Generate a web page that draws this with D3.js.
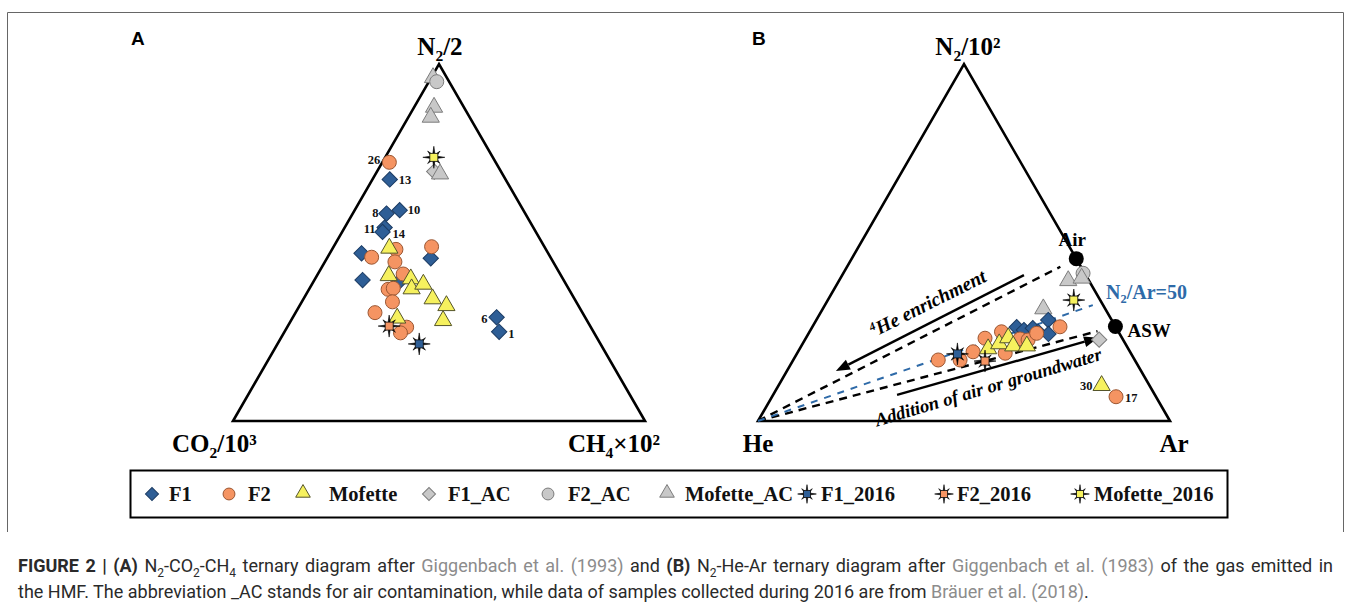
<!DOCTYPE html>
<html>
<head>
<meta charset="utf-8">
<script src="https://cdn.jsdelivr.net/npm/d3@7/dist/d3.min.js"></script>
<style>
  html, body { margin: 0; padding: 0; background: #fff; }
  svg { display: block; }
</style>
</head>
<body>
<script>
// ---------------- data ----------------
// Panel A: [N2/2, CO2/10^3, CH4x10^2] in %
const seriesNames = ["F1", "F2", "Mofette", "F1_AC", "F2_AC", "Mofette_AC", "F1_2016", "F2_2016", "Mofette_2016"];

const aF1 = [[67.7,28.1,4.2],[58.2,33.7,8.2],[59.1,30.0,10.9],[54.2,36.1,9.7],[53.0,37.2,9.8],
             [47.0,45.3,7.7],[45.6,29.2,25.2],[39.5,48.8,11.7],[39.0,40.2,20.8],[29.1,21.5,49.5],[25.0,22.9,52.1]];
const aF1Ids = ["13","8","10","11","14","","","","","6","1"];
const aF2 = [[72.5,25.8,1.7],[45.9,43.4,10.7],[48.1,36.4,15.5],[48.9,27.4,23.8],[44.6,38.4,17.0],[41.2,38.1,20.7],
             [36.9,43.9,19.2],[37.2,42.5,20.3],[33.4,44.6,22.0],[30.4,50.4,19.3],[26.3,44.7,29.0],[24.7,47.0,28.3]];
const aF2Ids = ["26","","","","","","","","","","",""];
const aMof = [[48.1,38.0,13.9],[40.4,42.0,17.6],[39.5,37.1,23.4],[36.7,38.3,25.0],[38.0,34.8,27.2],
              [33.9,34.6,31.5],[32.0,32.2,35.8],[27.8,35.1,37.1],[28.5,45.9,25.6]];
const aF1AC = [[69.9,16.2,13.9]];
const aF2AC = [[95.1,3.0,1.9]];
const aMofAC = [[95.9,3.5,0.6],[87.6,7.4,5.0],[84.8,9.6,5.6],[68.9,15.3,15.8]];
const aF1_2016 = [[21.6,44.0,34.4]];
const aF2_2016 = [[26.6,48.8,24.6]];
const aMof_2016 = [[73.9,14.3,11.8]];

// Panel B: [N2/10^2, He, Ar] in %
const bF1 = [[26.3,24.1,49.7],[25.5,22.7,51.8],[26.0,20.3,53.7],[25.0,19.5,55.5],[28.3,15.4,56.3],[24.4,17.3,58.3]];
const bF2 = [[17.1,47.7,35.2],[17.1,42.4,40.5],[19.4,38.1,42.5],[23.2,33.3,43.5],[25.0,28.4,46.6],[19.0,30.5,50.5],
             [23.0,24.9,52.1],[22.7,23.1,54.2],[24.6,20.1,55.4],[26.4,13.5,60.1],[6.8,9.7,83.5]];
const bF2Ids = ["","","","","","","","","","","17"];
const bMof = [[19.9,34.2,45.9],[21.3,30.8,47.9],[23.0,27.8,49.3],[20.7,27.7,51.6],[20.7,24.4,54.9],[9.6,11.8,78.6]];
const bMofIds = ["","","","","","30"];
const bF1AC = [[22.8,5.8,71.4]];
const bF2AC = [[41.4,0.4,58.2]];
const bMofAC = [[31.1,15.2,53.7],[39.0,5.2,55.8],[39.7,1.6,58.7]];
const bF1_2016 = [[18.8,42.2,39.0]];
const bF2_2016 = [[16.8,36.5,46.7]];
const bMof_2016 = [[33.9,6.4,59.7]];

// Reference compositions in panel B
const refPoints = [{name: "Air", c: [45.5,0,54.5]}, {name: "ASW", c: [26.5,0,73.5]}];
const heVertex = [0,100,0];
const n2Ar50 = [33.3,0,66.7];
// Process arrows (start, end) in panel B
const arrowHe = [[40.9,15.0,44.1],[14.0,74.1,11.9]];
const arrowAir = [[7.3,62.6,30.1],[23.3,5.8,70.9]];

// ---------------- layout ----------------
const W = 1357, H = 606;
const side = 412, triH = side * Math.sqrt(3) / 2;
const serif = "'Liberation Serif','Times New Roman',serif";
const sans = "'Liberation Sans',Arial,sans-serif";

const styles = {
  F1:           {shape: "diamond",  fill: "#2e5e96", stroke: "#1b3b63"},
  F2:           {shape: "circle",   fill: "#f59462", stroke: "#9b5632"},
  Mofette:      {shape: "triangle", fill: "#f6f15e", stroke: "#55552a"},
  F1_AC:        {shape: "diamond",  fill: "#c8c8c8", stroke: "#7c7c7c"},
  F2_AC:        {shape: "circle",   fill: "#c8c8c8", stroke: "#7c7c7c"},
  Mofette_AC:   {shape: "triangle", fill: "#c8c8c8", stroke: "#7c7c7c"},
  F1_2016:      {shape: "star",     fill: "#2e5e96", stroke: "#000"},
  F2_2016:      {shape: "star",     fill: "#f59462", stroke: "#000"},
  Mofette_2016: {shape: "star",     fill: "#f6f15e", stroke: "#000"}
};

const svg = d3.select("body").append("svg").attr("width", W).attr("height", H);

// outer frame
svg.append("path")
  .attr("d", `M7.5,532 V12.5 H1343.5 V532`)
  .attr("fill", "none").attr("stroke", "#666").attr("stroke-width", 1);

function projection(x0, y0) {
  const xs = d3.scaleLinear().domain([0, 100]).range([x0, x0 + side]);
  const ys = d3.scaleLinear().domain([0, 100]).range([y0, y0 - triH]);
  return (c) => {
    const s = c[0] + c[1] + c[2];
    const t = c[0] / s * 100, r = c[2] / s * 100;
    return [xs(r + t / 2), ys(t)];
  };
}

function starPath(R, r) {
  const pts = [];
  for (let i = 0; i < 16; i++) {
    const ang = i * Math.PI / 8 - Math.PI / 2;
    const rad = i % 2 === 0 ? (i % 4 === 0 ? R : R * 0.8) : r;
    pts.push([rad * Math.cos(ang), rad * Math.sin(ang)]);
  }
  return "M" + pts.map(p => p.join(",")).join("L") + "Z";
}

function drawSymbol(g, name, x, y, scale) {
  const st = styles[name];
  const k = scale || 1;
  const grp = g.append("g").attr("transform", `translate(${x},${y})`);
  if (st.shape === "circle") {
    grp.append("path").attr("d", d3.symbol(d3.symbolCircle, 154 * k * k)())
      .attr("fill", st.fill).attr("stroke", st.stroke).attr("stroke-width", 1);
  } else if (st.shape === "diamond") {
    grp.append("path").attr("d", d3.symbol(d3.symbolSquare, 118 * k * k)())
      .attr("transform", "rotate(45)")
      .attr("fill", st.fill).attr("stroke", st.stroke).attr("stroke-width", 1);
  } else if (st.shape === "triangle") {
    grp.append("path").attr("d", d3.symbol(d3.symbolTriangle, 128 * k * k)())
      .attr("transform", `translate(0,${-1.2 * k})`)
      .attr("fill", st.fill).attr("stroke", st.stroke).attr("stroke-width", 1);
  } else {
    grp.append("path").attr("d", starPath(11 * k, 3 * k)).attr("fill", "#000")
      .attr("stroke", "#000").attr("stroke-width", 0.6);
    const q = 4 * k;
    grp.append("rect").attr("x", -q).attr("y", -q).attr("width", 2 * q).attr("height", 2 * q)
      .attr("fill", st.fill).attr("stroke", "#111").attr("stroke-width", 0.8);
  }
}

function richText(g, x, y, parts, opts) {
  const t = g.append("text").attr("x", x).attr("y", y)
    .attr("font-family", opts.family || serif).attr("font-weight", opts.weight || "bold")
    .attr("font-size", opts.size).attr("fill", opts.fill || "#000")
    .attr("text-anchor", opts.anchor || "start");
  if (opts.style) t.attr("font-style", opts.style);
  if (opts.transform) t.attr("transform", opts.transform);
  parts.forEach(p => {
    const ts = t.append("tspan").text(p.t);
    if (p.sub) ts.attr("font-size", opts.size * 0.62).attr("dy", opts.size * 0.22);
    if (p.back) ts.attr("dy", -opts.size * 0.22);
    if (p.sup) ts.attr("font-size", opts.size * 0.6).attr("dy", -opts.size * 0.35);
    if (p.down) ts.attr("dy", opts.size * 0.35);
  });
  return t;
}

function triangleOutline(g, proj) {
  const v = [[100,0,0],[0,100,0],[0,0,100]].map(proj);
  g.append("path").attr("d", "M" + v.map(p => p.join(",")).join("L") + "Z")
    .attr("fill", "none").attr("stroke", "#000").attr("stroke-width", 2.6).attr("stroke-linejoin", "miter");
}

function drawSeries(g, proj, rows, name, ids, labelPos) {
  rows.forEach((c, i) => {
    const [x, y] = proj(c);
    drawSymbol(g, name, x, y);
    const id = ids && ids[i];
    if (id) {
      const lp = labelPos[id];
      g.append("text").attr("x", x + lp[0]).attr("y", y + lp[1])
        .attr("text-anchor", lp[2]).attr("font-family", serif).attr("font-weight", "bold")
        .attr("font-size", 12.5).attr("fill", "#111").text(id);
    }
  });
}

// ---------------- panel A ----------------
const gA = svg.append("g");
const pA = projection(233, 421);
triangleOutline(gA, pA);
const labelPosA = {
  "26": [-9, 2, "end"], "13": [9, 5, "start"], "8": [-8, 3, "end"], "10": [8, 4, "start"],
  "11": [-9, 5, "end"], "14": [10, 6, "start"], "6": [-9, 6, "end"], "1": [9, 6, "start"]
};
drawSeries(gA, pA, aF1AC, "F1_AC");
drawSeries(gA, pA, aMofAC, "Mofette_AC");
drawSeries(gA, pA, aF2AC, "F2_AC");
drawSeries(gA, pA, aF1, "F1", aF1Ids, labelPosA);
drawSeries(gA, pA, aF2, "F2", aF2Ids, labelPosA);
drawSeries(gA, pA, aMof, "Mofette");
drawSeries(gA, pA, aF1_2016, "F1_2016");
drawSeries(gA, pA, aF2_2016, "F2_2016");
drawSeries(gA, pA, aMof_2016, "Mofette_2016");

gA.append("text").attr("x", 131).attr("y", 45).attr("font-family", sans).attr("font-weight", "bold")
  .attr("font-size", 19).text("A");
richText(gA, 440, 55, [{t: "N"}, {t: "2", sub: true}, {t: "/2", back: true}], {size: 25, anchor: "middle"});
richText(gA, 172, 452, [{t: "CO"}, {t: "2", sub: true}, {t: "/10³", back: true}], {size: 25});
richText(gA, 568, 452, [{t: "CH"}, {t: "4", sub: true}, {t: "×10²", back: true}], {size: 25});

// ---------------- panel B ----------------
const gB = svg.append("g");
const pB = projection(758, 421);
triangleOutline(gB, pB);

const lerp = (a, b, t) => a.map((v, i) => v + (b[i] - v) * t);
const refLine = (target, t, color, width, dash) => {
  const p0 = pB(heVertex), p1 = pB(lerp(heVertex, target, t));
  gB.append("line").attr("x1", p0[0]).attr("y1", p0[1]).attr("x2", p1[0]).attr("y2", p1[1])
    .attr("stroke", color).attr("stroke-width", width).attr("stroke-dasharray", dash);
};
refLine(refPoints[0].c, 0.95, "#000", 2.4, "8,6");
refLine(refPoints[1].c, 0.95, "#000", 2.4, "8,6");
refLine(n2Ar50, 0.975, "#2e6aa8", 2, "7,7");

const drawArrow = (seg) => {
  const p0 = pB(seg[0]), p1 = pB(seg[1]);
  const ang = Math.atan2(p1[1] - p0[1], p1[0] - p0[0]);
  const L = 14, Wd = 5.5;
  const bx = p1[0] - L * Math.cos(ang), by = p1[1] - L * Math.sin(ang);
  gB.append("line").attr("x1", p0[0]).attr("y1", p0[1]).attr("x2", bx).attr("y2", by)
    .attr("stroke", "#000").attr("stroke-width", 2.4);
  const nx = -Math.sin(ang), ny = Math.cos(ang);
  gB.append("path")
    .attr("d", `M${p1[0]},${p1[1]}L${bx + nx * Wd},${by + ny * Wd}L${bx - nx * Wd},${by - ny * Wd}Z`)
    .attr("fill", "#000");
};
drawArrow(arrowHe);
drawArrow(arrowAir);

const bIdPos = {"17": [9, 5, "start"], "30": [-9, 3, "end"]};
drawSeries(gB, pB, bF1AC, "F1_AC");
drawSeries(gB, pB, bF2AC, "F2_AC");
drawSeries(gB, pB, bMofAC, "Mofette_AC");
drawSeries(gB, pB, bF1, "F1");
drawSeries(gB, pB, bF2, "F2", bF2Ids, bIdPos);
drawSeries(gB, pB, bMof, "Mofette", bMofIds, bIdPos);
drawSeries(gB, pB, bF1_2016, "F1_2016");
drawSeries(gB, pB, bF2_2016, "F2_2016");
drawSeries(gB, pB, bMof_2016, "Mofette_2016");

// Air and ASW end members
refPoints.forEach(r => {
  const [x, y] = pB(r.c);
  gB.append("circle").attr("cx", x).attr("cy", y).attr("r", 7.5).attr("fill", "#000");
});
const airP = pB(refPoints[0].c), aswP = pB(refPoints[1].c);
gB.append("text").attr("x", airP[0] - 4).attr("y", airP[1] - 13).attr("text-anchor", "middle")
  .attr("font-family", serif).attr("font-weight", "bold").attr("font-size", 19).text("Air");
gB.append("text").attr("x", aswP[0] + 12).attr("y", aswP[1] + 11)
  .attr("font-family", serif).attr("font-weight", "bold").attr("font-size", 19).text("ASW");
richText(gB, 1106, 299, [{t: "N"}, {t: "2", sub: true}, {t: "/Ar=50", back: true}],
  {size: 20, fill: "#2e6aa8"});

// arrow captions
richText(gB, 931, 309, [{t: "4", sup: true}, {t: "He enrichment", down: true}],
  {size: 19.5, style: "italic", anchor: "middle", transform: "rotate(-26.5 931 309)"});
richText(gB, 990, 393, [{t: "Addition of air or groundwater"}], {size: 18.5, style: "italic", anchor: "middle",
  transform: "rotate(-16.5 990 393)"});

gB.append("text").attr("x", 752).attr("y", 45).attr("font-family", sans).attr("font-weight", "bold")
  .attr("font-size", 19).text("B");
richText(gB, 968, 55, [{t: "N"}, {t: "2", sub: true}, {t: "/10²", back: true}], {size: 25, anchor: "middle"});
richText(gB, 758, 452, [{t: "He"}], {size: 25, anchor: "middle"});
richText(gB, 1174, 452, [{t: "Ar"}], {size: 25, anchor: "middle"});

// ---------------- legend ----------------
const gL = svg.append("g");
gL.append("rect").attr("x", 130.5).attr("y", 470.5).attr("width", 1097).attr("height", 47)
  .attr("fill", "none").attr("stroke", "#000").attr("stroke-width", 2);
const legendSymX = [152, 229, 303, 429, 548, 667, 807, 944, 1080];
const legendTextX = [169, 248, 329, 448, 568, 685, 821, 957, 1094];
seriesNames.forEach((name, i) => {
  drawSymbol(gL, name, legendSymX[i], 494, 0.85);
  gL.append("text").attr("x", legendTextX[i]).attr("y", 501)
    .attr("font-family", serif).attr("font-weight", "bold").attr("font-size", 20.5).attr("fill", "#111")
    .text(name);
});

// ---------------- caption ----------------
const capFont = "Roboto, 'Liberation Sans', Arial, sans-serif";
const grey = "#8c8c8c", dark = "#2a2a2a";
function caption(y, parts, justifyTo) {
  const t = svg.append("text").attr("x", 18).attr("y", y).attr("font-family", capFont)
    .attr("font-size", 18).attr("fill", dark);
  parts.forEach(p => {
    const ts = t.append("tspan").text(p.t);
    if (p.b) ts.attr("font-weight", "bold");
    if (p.g) ts.attr("fill", grey);
    if (p.sub) ts.attr("font-size", 12).attr("dy", 4.5);
    if (p.back) ts.attr("dy", -4.5);
  });
  if (justifyTo) {
    // spread the spare width over the word gaps, like a justified paragraph line
    const natural = t.node().getComputedTextLength();
    const gaps = parts.map(p => p.t).join("").split(" ").length - 1;
    if (gaps > 0 && natural < justifyTo) t.attr("word-spacing", (justifyTo - natural) / gaps);
  }
  return t;
}
caption(572, [
  {t: "FIGURE 2 | (A) ", b: true}, {t: "N"}, {t: "2", sub: true}, {t: "-CO", back: true}, {t: "2", sub: true},
  {t: "-CH", back: true}, {t: "4", sub: true}, {t: " ternary diagram after ", back: true},
  {t: "Giggenbach et al. (1993)", g: true}, {t: " and "}, {t: "(B) ", b: true}, {t: "N"}, {t: "2", sub: true},
  {t: "-He-Ar ternary diagram after ", back: true}, {t: "Giggenbach et al. (1983)", g: true},
  {t: " of the gas emitted in"}
], 1315);
caption(598, [
  {t: "the HMF. The abbreviation _AC stands for air contamination, while data of samples collected during 2016 are from "},
  {t: "Bräuer et al. (2018)", g: true}, {t: "."}
]);
</script>
</body>
</html>
